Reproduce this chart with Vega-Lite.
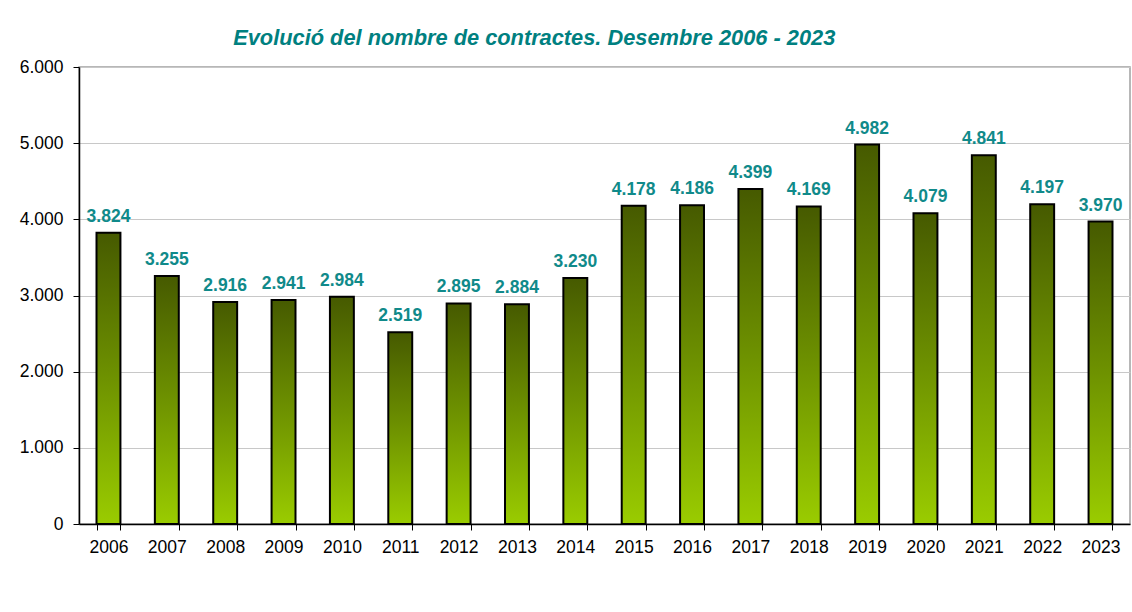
{
  "$schema": "https://vega.github.io/schema/vega-lite/v6.json",
  "autosize": "none",
  "width": 1051,
  "height": 457,
  "padding": {"left": 79, "top": 67, "right": 2, "bottom": 88},
  "background": "white",
  "config": {
    "font": "Liberation Sans",
    "view": {"stroke": "#a0a0a0", "strokeWidth": 1.5}
  },
  "title": {
    "text": "Evolució del nombre de contractes. Desembre 2006 - 2023",
    "anchor": "start",
    "dx": 214,
    "offset": 8,
    "font": "Liberation Sans",
    "fontSize": 21.8,
    "fontWeight": "bold",
    "fontStyle": "italic",
    "color": "#008080"
  },
  "data": {
    "values": [
      {"year": "2006", "value": 3824},
      {"year": "2007", "value": 3255},
      {"year": "2008", "value": 2916},
      {"year": "2009", "value": 2941},
      {"year": "2010", "value": 2984},
      {"year": "2011", "value": 2519},
      {"year": "2012", "value": 2895},
      {"year": "2013", "value": 2884},
      {"year": "2014", "value": 3230},
      {"year": "2015", "value": 4178},
      {"year": "2016", "value": 4186},
      {"year": "2017", "value": 4399},
      {"year": "2018", "value": 4169},
      {"year": "2019", "value": 4982},
      {"year": "2020", "value": 4079},
      {"year": "2021", "value": 4841},
      {"year": "2022", "value": 4197},
      {"year": "2023", "value": 3970}
    ]
  },
  "encoding": {
    "x": {
      "field": "year",
      "type": "nominal",
      "scale": {"paddingInner": 0.59, "paddingOuter": 0.3},
      "axis": {
        "title": null,
        "labelAngle": 0,
        "labelFont": "Liberation Sans",
        "labelFontSize": 17.5,
        "labelColor": "black",
        "labelPadding": 8,
        "tickBand": "extent",
        "tickColor": "black",
        "tickSize": 6,
        "domainColor": "black",
        "domainWidth": 1.5
      }
    },
    "y": {
      "field": "value",
      "type": "quantitative",
      "scale": {"domain": [0, 6000]},
      "axis": {
        "title": null,
        "values": [0, 1000, 2000, 3000, 4000, 5000, 6000],
        "labelExpr": "replace(format(datum.value, ','), ',', '.')",
        "labelFont": "Liberation Sans",
        "labelFontSize": 17.5,
        "labelColor": "black",
        "labelPadding": 10,
        "tickColor": "black",
        "tickSize": 6,
        "domainColor": "black",
        "domainWidth": 1.5,
        "gridColor": "#c8c8c8",
        "gridWidth": 1.2
      }
    }
  },
  "layer": [
    {
      "mark": {
        "type": "bar",
        "stroke": "black",
        "strokeWidth": 2,
        "fill": {
          "gradient": "linear",
          "x1": 0, "y1": 0, "x2": 0, "y2": 1,
          "stops": [
            {"offset": 0, "color": "#465a00"},
            {"offset": 0.5, "color": "#6e9200"},
            {"offset": 1, "color": "#9acc00"}
          ]
        }
      }
    },
    {
      "mark": {
        "type": "text",
        "baseline": "bottom",
        "dy": -7,
        "font": "Liberation Sans",
        "fontSize": 17.5,
        "fontWeight": "bold",
        "color": "#108a8a"
      },
      "encoding": {
        "text": {"field": "label", "type": "nominal"}
      },
      "transform": [
        {"calculate": "replace(format(datum.value, ','), ',', '.')", "as": "label"}
      ]
    }
  ]
}
